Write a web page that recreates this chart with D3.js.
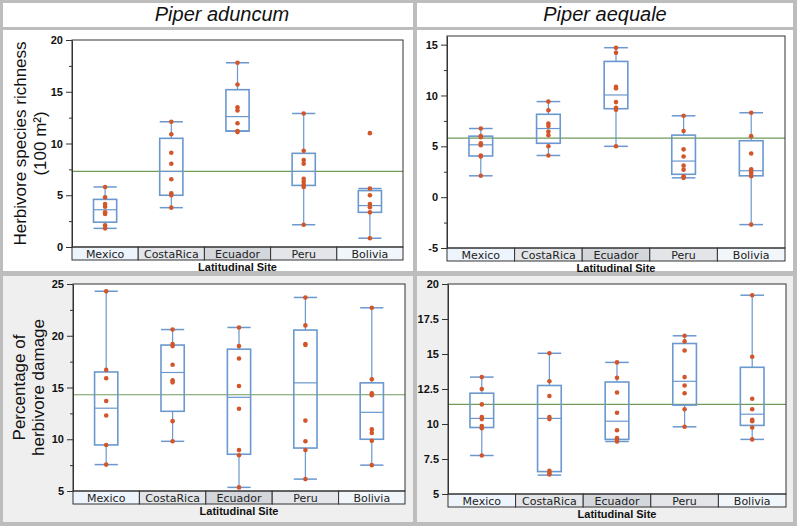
<!DOCTYPE html>
<html>
<head>
<meta charset="utf-8">
<script src="https://cdn.jsdelivr.net/npm/d3@7"></script>
<style>
  html, body { margin: 0; padding: 0; background: #fff; }
  svg { display: block; }
</style>
</head>
<body>
<svg id="chart" width="797" height="526"></svg>
<script>
// ---------------- DATA ----------------
const sites = ["Mexico", "CostaRica", "Ecuador", "Peru", "Bolivia"];
const speciesTitles = ["Piper aduncum", "Piper aequale"];
const richnessLabel = ["Herbivore species richness", "(100 m²)"];
const damageLabel = ["Percentage of", "herbivore damage"];
const xAxisTitle = "Latitudinal Site";

// box stats: [min (lower whisker), Q1, median, Q3, max (upper whisker)]
const richAduncumBox = [[1.8, 2.4, 3.6, 4.6, 5.8], [3.8, 5.0, 7.3, 10.5, 12.1], [11.2, 11.2, 12.6, 15.2, 17.8], [2.15, 5.95, 7.3, 9.05, 12.9], [0.85, 3.35, 4.0, 5.45, 5.65]];
const richAduncumPts = [[5.8, 4.8, 4.15, 3.9, 3.35, 3.2, 2.1, 1.8], [12.1, 10.9, 9.1, 8.05, 6.55, 5.2, 5.0, 3.8], [17.8, 15.7, 13.5, 13.2, 11.95, 11.2, 11.1], [12.9, 9.3, 8.4, 8.05, 6.6, 6.3, 6.0, 5.8, 2.15], [11.0, 5.65, 5.0, 4.15, 3.85, 3.35, 0.85]];
const richAduncumMean = 7.3;

const richAequaleBox = [[2.1, 4.05, 5.15, 6.0, 6.75], [4.1, 5.3, 6.75, 8.15, 9.4], [5.0, 8.7, 10.05, 13.35, 14.7], [1.9, 2.25, 3.55, 6.1, 8.0], [-2.7, 2.1, 2.6, 5.55, 8.3]];
const richAequalePts = [[6.75, 6.0, 5.9, 5.3, 5.1, 4.1, 4.0, 2.1], [9.4, 8.55, 7.25, 7.0, 6.45, 6.1, 5.0, 4.1], [14.7, 14.2, 10.85, 10.7, 9.35, 8.8, 8.6, 5.0], [8.0, 6.5, 4.7, 4.0, 3.1, 2.7, 2.05, 1.9], [8.3, 6.0, 4.3, 2.75, 2.5, 2.3, 2.05, -2.7]];
const richAequaleMean = 5.8;

const damAduncumBox = [[7.55, 9.45, 13.0, 16.5, 24.3], [9.8, 12.7, 16.45, 19.1, 20.6], [5.35, 8.55, 14.05, 18.7, 20.8], [6.15, 9.15, 15.45, 20.55, 23.7], [7.5, 10.0, 12.6, 15.45, 22.7]];
const damAduncumPts = [[24.3, 16.7, 15.9, 13.7, 12.3, 9.45, 7.55], [20.6, 19.2, 19.0, 17.2, 15.7, 15.5, 11.75, 9.8], [20.8, 19.0, 17.8, 15.15, 12.95, 8.95, 8.45, 5.35], [23.7, 21.0, 19.2, 19.1, 11.8, 9.8, 8.95, 6.15], [22.7, 15.8, 14.45, 14.25, 10.95, 10.6, 9.85, 7.5]];
const damAduncumMean = 14.3;

const damAequaleBox = [[7.75, 9.75, 10.4, 12.2, 13.35], [6.35, 6.6, 10.4, 12.75, 15.05], [8.75, 8.9, 10.2, 13.0, 14.4], [9.8, 11.35, 13.05, 15.75, 16.3], [8.9, 9.9, 10.7, 14.05, 19.2]];
const damAequalePts = [[13.35, 12.5, 11.4, 10.5, 10.35, 9.85, 9.7, 7.75], [15.05, 13.05, 12.0, 10.5, 10.35, 6.65, 6.5, 6.4], [14.4, 13.3, 12.25, 10.8, 9.55, 9.0, 8.85, 8.75], [16.3, 15.9, 15.25, 13.35, 12.75, 12.2, 11.05, 9.8], [19.2, 14.8, 11.8, 11.05, 10.3, 10.2, 9.75, 8.9]];
const damAequaleMean = 11.4;

// tick values
const richAduncumTicks = [0, 5, 10, 15, 20];
const richAequaleTicks = [-5, 0, 5, 10, 15];
const damAduncumTicks = [5, 10, 15, 20, 25];
const damAequaleTicks = [5, 7.5, 10, 12.5, 15, 17.5, 20];
const richMinorTicks = [-2.5, 2.5, 7.5, 12.5, 17.5];
const damMinorTicks = [7.5, 12.5, 17.5, 22.5];

// ---------------- LAYOUT ----------------
const svg = d3.select("#chart");
const BORDER = "#bdbdbd";
const BOX = "#6a98cf";
const DOT = "#d2562a";
const MEAN = "#6f9b5b";
const bandFills = ["#eef4fb", "#e3e5e8", "#d3d6da", "#e3e5e8", "#f1f6fb"];

svg.append("rect").attr("width", 797).attr("height", 526).attr("fill", BORDER);
// title cells
svg.append("rect").attr("x", 3).attr("y", 3).attr("width", 410).attr("height", 24).attr("fill", "#fff");
svg.append("rect").attr("x", 417).attr("y", 3).attr("width", 376).attr("height", 24).attr("fill", "#fff");
// top panels
svg.append("rect").attr("x", 3).attr("y", 30).attr("width", 410).attr("height", 241).attr("fill", "#fff");
svg.append("rect").attr("x", 417).attr("y", 30).attr("width", 376).attr("height", 241).attr("fill", "#fff");
// bottom panels
svg.append("rect").attr("x", 3).attr("y", 276).attr("width", 410).attr("height", 246).attr("fill", "#efefef");
svg.append("rect").attr("x", 417).attr("y", 276).attr("width", 376).attr("height", 246).attr("fill", "#efefef");

svg.append("text").attr("x", 222).attr("y", 21).attr("text-anchor", "middle")
  .attr("font-family", "Liberation Sans, Arial, sans-serif").attr("font-style", "italic")
  .attr("font-size", 20).attr("fill", "#111").text(speciesTitles[0]);
svg.append("text").attr("x", 605).attr("y", 21).attr("text-anchor", "middle")
  .attr("font-family", "Liberation Sans, Arial, sans-serif").attr("font-style", "italic")
  .attr("font-size", 20).attr("fill", "#111").text(speciesTitles[1]);

function drawPanel(cfg) {
  const g = svg.append("g");
  const y = d3.scaleLinear().domain(cfg.domain).range([cfg.y1, cfg.y0]);
  const x = d3.scaleBand().domain(sites).range([cfg.x0, cfg.x1]);
  const bw = x.bandwidth() * 0.35;

  // plot background
  g.append("rect").attr("x", cfg.x0).attr("y", cfg.y0).attr("width", cfg.x1 - cfg.x0)
    .attr("height", cfg.y1 - cfg.y0).attr("fill", "#fff");

  // category band
  const bandH = 13;
  sites.forEach((s, i) => {
    g.append("rect").attr("x", x(s)).attr("y", cfg.y1).attr("width", x.bandwidth())
      .attr("height", bandH).attr("fill", bandFills[i]).attr("stroke", "#333").attr("stroke-width", 1);
    g.append("text").attr("x", x(s) + x.bandwidth() / 2).attr("y", cfg.y1 + 11)
      .attr("text-anchor", "middle").attr("font-family", "DejaVu Sans, sans-serif")
      .attr("font-size", 11).attr("fill", "#222").text(s);
  });
  g.append("text").attr("x", (cfg.x0 + cfg.x1) / 2).attr("y", cfg.y1 + bandH + 11)
    .attr("text-anchor", "middle").attr("font-family", "Liberation Sans, Arial, sans-serif")
    .attr("font-weight", "bold").attr("font-size", 11).attr("fill", "#111").text(xAxisTitle);

  // mean line
  g.append("line").attr("x1", cfg.x0).attr("x2", cfg.x1).attr("y1", y(cfg.mean)).attr("y2", y(cfg.mean))
    .attr("stroke", MEAN).attr("stroke-width", 1.2);

  // boxes
  sites.forEach((s, i) => {
    const [mn, q1, md, q3, mx] = cfg.box[i];
    const cx = x(s) + x.bandwidth() / 2;
    const bg = g.append("g").attr("stroke", BOX).attr("fill", "none");
    bg.append("line").attr("x1", cx).attr("x2", cx).attr("y1", y(q3)).attr("y2", y(mx)).attr("stroke-width", 1.2);
    bg.append("line").attr("x1", cx).attr("x2", cx).attr("y1", y(q1)).attr("y2", y(mn)).attr("stroke-width", 1.2);
    bg.append("line").attr("x1", cx - bw / 2).attr("x2", cx + bw / 2).attr("y1", y(mx)).attr("y2", y(mx)).attr("stroke-width", 1.5);
    bg.append("line").attr("x1", cx - bw / 2).attr("x2", cx + bw / 2).attr("y1", y(mn)).attr("y2", y(mn)).attr("stroke-width", 1.5);
    bg.append("rect").attr("x", cx - bw / 2).attr("y", y(q3)).attr("width", bw)
      .attr("height", Math.max(0.5, y(q1) - y(q3))).attr("stroke-width", 1.6);
    bg.append("line").attr("x1", cx - bw / 2).attr("x2", cx + bw / 2).attr("y1", y(md)).attr("y2", y(md)).attr("stroke-width", 1.2);
    g.selectAll(null).data(cfg.pts[i]).enter().append("circle")
      .attr("cx", cx).attr("cy", d => y(d)).attr("r", 2.3).attr("fill", DOT);
  });

  // frame
  g.append("rect").attr("x", cfg.x0).attr("y", cfg.y0).attr("width", cfg.x1 - cfg.x0)
    .attr("height", cfg.y1 - cfg.y0).attr("fill", "none").attr("stroke", "#333").attr("stroke-width", 1);

  // axes
  const ax = g.append("g").attr("transform", `translate(${cfg.x0},0)`)
    .call(d3.axisLeft(y).tickValues(cfg.ticks).tickSize(6).tickSizeOuter(0).tickPadding(3).tickFormat(d => String(d)));
  ax.select(".domain").attr("stroke", "#333");
  ax.selectAll(".tick line").attr("stroke", "#333");
  ax.selectAll("text").attr("font-family", "Liberation Sans, Arial, sans-serif")
    .attr("font-weight", "bold").attr("font-size", 11).attr("fill", "#111");
  if (cfg.minor) {
    const mn = g.append("g").attr("transform", `translate(${cfg.x0},0)`)
      .call(d3.axisLeft(y).tickValues(cfg.minor.filter(v => v >= cfg.domain[0] && v <= cfg.domain[1]))
        .tickSize(3).tickSizeOuter(0).tickFormat(""));
    mn.select(".domain").remove();
    mn.selectAll(".tick line").attr("stroke", "#333");
  }

  // y label
  if (cfg.label) {
    const cy = (cfg.y0 + cfg.y1) / 2;
    cfg.label.forEach((t, k) => {
      g.append("text").attr("transform", `translate(${cfg.labelX[k]},${cy}) rotate(-90)`)
        .attr("text-anchor", "middle").attr("font-family", "Liberation Sans, Arial, sans-serif")
        .attr("font-size", 17).attr("fill", "#111").text(t);
    });
  }
}

drawPanel({ x0: 72, x1: 403, y0: 40, y1: 247, domain: [0, 20], ticks: richAduncumTicks, minor: richMinorTicks,
  box: richAduncumBox, pts: richAduncumPts, mean: richAduncumMean, label: richnessLabel, labelX: [26, 46] });
drawPanel({ x0: 447, x1: 785, y0: 36, y1: 248, domain: [-5, 15.85], ticks: richAequaleTicks, minor: richMinorTicks,
  box: richAequaleBox, pts: richAequalePts, mean: richAequaleMean });
drawPanel({ x0: 73, x1: 405, y0: 284, y1: 491, domain: [5, 25], ticks: damAduncumTicks, minor: damMinorTicks,
  box: damAduncumBox, pts: damAduncumPts, mean: damAduncumMean, label: damageLabel, labelX: [25, 44] });
drawPanel({ x0: 448, x1: 786, y0: 284, y1: 494, domain: [5, 20], ticks: damAequaleTicks,
  box: damAequaleBox, pts: damAequalePts, mean: damAequaleMean });
</script>
</body>
</html>
